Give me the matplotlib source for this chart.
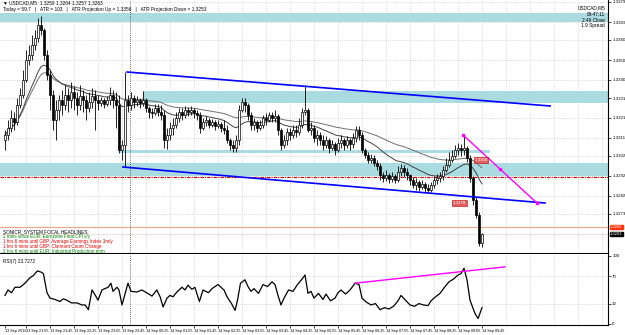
import numpy as np
import pandas as pd
import matplotlib
matplotlib.use("Agg")
import matplotlib.pyplot as plt

plt.rcParams['font.family'] = ['Liberation Sans', 'DejaVu Sans']

# USDCAD M5, 13 Sep 20:30 -> 14 Sep 09:45
first_open = 1.3310
highs = [1.3315, 1.3320, 1.3325, 1.3324, 1.3331, 1.3336, 1.3345, 1.3355, 1.33575, 1.33625,
         1.3365, 1.3371, 1.3372, 1.3366, 1.3355, 1.3345, 1.3335, 1.3330, 1.33325, 1.3335,
         1.33375, 1.3336, 1.3339, 1.3337, 1.3334, 1.33375, 1.3335, 1.33325, 1.3334, 1.3336,
         1.3335, 1.33325, 1.33315, 1.3331, 1.3332, 1.33365, 1.3335, 1.3334, 1.33325, 1.3310,
         1.3344, 1.33325, 1.3334, 1.33325, 1.3332, 1.3331, 1.33345, 1.3331, 1.3327, 1.3326,
         1.3328, 1.3328, 1.33275, 1.3325, 1.3316, 1.3319, 1.3321, 1.3324, 1.3326, 1.3326,
         1.3327, 1.33265, 1.3327, 1.3326, 1.3325, 1.3324, 1.3321, 1.3322, 1.3321, 1.33205,
         1.3320, 1.3320, 1.3319, 1.3320, 1.33175, 1.3311, 1.3310, 1.33125, 1.33275, 1.3331,
         1.3331, 1.33285, 1.3324, 1.3321, 1.3320, 1.3320, 1.33225, 1.33235, 1.3324, 1.3324,
         1.3325, 1.3323, 1.3316, 1.33125, 1.3316, 1.3316, 1.33175, 1.33175, 1.3321, 1.3326,
         1.33375, 1.3326, 1.3319, 1.33175, 1.3315, 1.3314, 1.33125, 1.3312, 1.3311, 1.3310,
         1.3309, 1.3311, 1.33125, 1.3311, 1.3312, 1.3311, 1.33135, 1.3317, 1.3317, 1.3314,
         1.3306, 1.3304, 1.3303, 1.33025, 1.3300, 1.32985, 1.3294, 1.3295, 1.32935, 1.3294,
         1.3293, 1.3297, 1.3298, 1.32975, 1.3296, 1.3293, 1.32915, 1.3291, 1.3290, 1.3290,
         1.3289, 1.3288, 1.3289, 1.3292, 1.3293, 1.3294, 1.3297, 1.3301, 1.3304, 1.3305,
         1.33075, 1.33085, 1.3308, 1.33125, 1.3307, 1.33025, 1.3292, 1.3282, 1.3274, 1.32635]
lows = [1.3305, 1.3310, 1.3314, 1.3315, 1.33175, 1.3326, 1.3331, 1.3339, 1.33475, 1.3350,
        1.3355, 1.3359, 1.33625, 1.3350, 1.3340, 1.3325, 1.3315, 1.3310, 1.3320, 1.33225,
        1.3325, 1.3324, 1.3326, 1.3325, 1.33225, 1.3325, 1.3324, 1.3320, 1.3324, 1.3326,
        1.3315, 1.3325, 1.3327, 1.3326, 1.3327, 1.33275, 1.3326, 1.3316, 1.33035, 1.3300,
        1.32965, 1.3324, 1.3325, 1.3326, 1.3327, 1.3326, 1.3327, 1.3324, 1.3321, 1.3321,
        1.33225, 1.3322, 1.3320, 1.3306, 1.33055, 1.3310, 1.33125, 1.3316, 1.3319, 1.3320,
        1.3321, 1.3322, 1.33225, 1.3321, 1.3320, 1.33135, 1.3315, 1.3317, 1.3316, 1.33165,
        1.3315, 1.3316, 1.3314, 1.3313, 1.33085, 1.3305, 1.3304, 1.3304, 1.33075, 1.3324,
        1.3324, 1.3320, 1.3315, 1.3315, 1.3314, 1.3315, 1.3316, 1.33175, 1.3319, 1.3319,
        1.3319, 1.33125, 1.3305, 1.3306, 1.33075, 1.3310, 1.3311, 1.33115, 1.33125, 1.3316,
        1.33225, 1.3314, 1.33125, 1.3309, 1.33075, 1.33075, 1.3305, 1.3306, 1.33035, 1.3305,
        1.33025, 1.3304, 1.3306, 1.3305, 1.3306, 1.3305, 1.3306, 1.3309, 1.3310, 1.33035,
        1.3301, 1.32985, 1.32985, 1.3297, 1.3295, 1.3290, 1.3289, 1.32895, 1.32885, 1.3289,
        1.32885, 1.3289, 1.3292, 1.32915, 1.3290, 1.32875, 1.3286, 1.3285, 1.32845, 1.32855,
        1.3284, 1.32835, 1.3284, 1.3286, 1.3288, 1.3289, 1.3290, 1.3294, 1.32965, 1.3299,
        1.3301, 1.33025, 1.3302, 1.33025, 1.3299, 1.3289, 1.32775, 1.3271, 1.3257, 1.32565]
closes = [1.33125, 1.3316, 1.3321, 1.3319, 1.33275, 1.33325, 1.3340, 1.3350, 1.33525, 1.33575,
          1.3361, 1.33675, 1.3365, 1.33525, 1.33425, 1.33325, 1.3320, 1.3325, 1.3330, 1.33275,
          1.33325, 1.3330, 1.3334, 1.3331, 1.33275, 1.3332, 1.3330, 1.3326, 1.3329, 1.3332,
          1.3330, 1.33285, 1.3330, 1.3328, 1.3330, 1.33325, 1.3330, 1.33275, 1.3305, 1.33075,
          1.3330, 1.33275, 1.3331, 1.3329, 1.3330, 1.33285, 1.3330, 1.3326, 1.3324, 1.33235,
          1.3326, 1.3324, 1.33225, 1.3310, 1.33125, 1.3316, 1.33175, 1.3321, 1.3324, 1.33225,
          1.3325, 1.3324, 1.3325, 1.33235, 1.33225, 1.3316, 1.3319, 1.3320, 1.33175, 1.3319,
          1.3317, 1.3318, 1.3316, 1.3315, 1.3310, 1.33075, 1.3306, 1.3310, 1.3325, 1.3329,
          1.33275, 1.33225, 1.33175, 1.3319, 1.3316, 1.33175, 1.3321, 1.3320, 1.33225, 1.3321,
          1.3322, 1.3315, 1.33075, 1.3310, 1.3314, 1.33125, 1.3315, 1.3314, 1.33175, 1.3324,
          1.3325, 1.3315, 1.3316, 1.3311, 1.33125, 1.3310, 1.33075, 1.3310, 1.3306, 1.3308,
          1.3305, 1.33085, 1.3310, 1.33075, 1.3310, 1.3308, 1.3311, 1.3315, 1.33125, 1.3305,
          1.33025, 1.3300, 1.3301, 1.32985, 1.3297, 1.32925, 1.3291, 1.32925, 1.32905, 1.3292,
          1.3290, 1.3294, 1.3296, 1.3294, 1.32925, 1.3290, 1.32875, 1.3289, 1.32865, 1.3288,
          1.3286, 1.3285, 1.32875, 1.3290, 1.3291, 1.3292, 1.3295, 1.32975, 1.3300, 1.3302,
          1.3305, 1.3306, 1.3305, 1.3306, 1.3301, 1.3291, 1.3280, 1.32725, 1.32585, 1.3263]

# RSI(7) (bar position, value)
rsi_pos = [0, 1, 2.2, 3.3, 5, 6.7, 8.3, 9.4, 10.8, 12.2, 12.8, 14, 15, 16.7, 18.3, 19.4, 20.6, 22.2,
           24, 25.6, 26.7, 27.8, 29, 30, 31, 32.3, 33.3, 34.4, 35.3, 36, 37.3, 38, 39, 40, 41, 42,
           44, 45.6, 47.2, 49, 50.6, 51.7, 52.7, 54, 55, 56, 57.3, 59, 60, 61, 62.3, 63.3, 64.8, 66,
           67.8, 69, 71, 73, 74, 75.5, 76.7, 77.5, 78.5, 80, 81, 82, 83, 84.5, 86, 87.5, 89, 90, 91,
           92, 93, 94.5, 96, 97.5, 99, 100, 101, 102, 103, 104.5, 106, 107, 108.5, 110, 111, 112,
           113.5, 115, 116.7, 118, 119, 120.5, 122, 123.5, 125, 126.5, 128, 129.5, 131, 132, 133.5,
           135, 136.5, 138, 139.5, 141, 142, 143.5, 145, 146.5, 148, 149.5, 151, 152, 153, 154, 155,
           156.7, 157.7, 159]
rsi_vals = [42, 50, 46, 54, 54, 60, 68, 71, 78, 76, 74, 46, 38, 36, 33, 37, 35, 31,
            31, 28, 28, 21, 50, 43, 35, 50, 52, 54, 60, 48, 54, 50, 28, 44, 60, 48,
            47, 50, 46, 41, 50, 40, 25, 38, 42, 40, 47, 54, 50, 57, 51, 54, 33, 50,
            46, 52, 58, 50, 40, 30, 20, 35, 60, 65, 55, 48, 52, 45, 58, 55, 62, 58, 42,
            28, 38, 50, 48, 58, 66, 72, 45, 48, 38, 45, 36, 44, 34, 38, 46, 50,
            44, 50, 60, 58, 38, 32, 28, 30, 21, 24, 22, 26, 34, 42, 35,
            28, 26, 30, 28, 27, 34, 40, 45, 54, 62, 66, 72, 74, 82, 65, 35,
            15, 8, 24]

time_pos = [0] + [7 + 8 * k for k in range(20)]
time_labels = ["13 Sep 2016", "13 Sep 21:05", "13 Sep 21:45", "13 Sep 22:25", "13 Sep 23:05",
               "13 Sep 23:45", "14 Sep 00:25", "14 Sep 01:05", "14 Sep 01:45", "14 Sep 02:25",
               "14 Sep 03:05", "14 Sep 03:45", "14 Sep 04:25", "14 Sep 05:05", "14 Sep 05:45",
               "14 Sep 06:25", "14 Sep 07:05", "14 Sep 07:45", "14 Sep 08:25", "14 Sep 09:05",
               "14 Sep 09:45"]
price_ticks = [1.3379, 1.3369, 1.3360, 1.3350, 1.3340, 1.3331, 1.3321, 1.3311, 1.3302,
               1.3292, 1.3282, 1.3273]

# support / resistance zones (low, high, start bar) and drawn lines
zones = [(1.3369, 1.33735, -2), (1.33285, 1.33345, 46), (1.33035, 1.3305, 38), (1.3292, 1.32985, -2)]
zone_end = [210, 210, 161.7, 210]
chan_top = ([40.7, 181.7], [1.3344, 1.3327])
chan_bot = ([39.3, 180.0], [1.32965, 1.32785])
proj_line = ([152.7, 165.0, 177.3], [1.33125, 1.32955, 1.32785])
rsi_line = ([116.7, 166.7], [60, 84])
alert_level = 1.32915
bid_level = 1.32665
last_price = 1.3263

W, H = 625, 335
fig = plt.figure(figsize=(W / 100, H / 100), dpi=100)
fig.patch.set_facecolor("white")
ax = fig.add_axes([0, 1 - 254 / H, 608 / W, 254 / H])
rx = fig.add_axes([0, 1 - 325 / H, 608 / W, 71 / H], sharex=ax)

closes = np.array(closes)
opens = np.r_[first_open, closes[:-1]]
highs = np.array(highs)
lows = np.array(lows)
idx = np.arange(len(closes))

grid_kw = dict(color="#b8b8b8", lw=0.5, ls=(0, (1, 2)), zorder=0)
grid_x = np.arange(7, 202, 8)
for g in grid_x:
    ax.axvline(g, **grid_kw)
    rx.axvline(g, **grid_kw)
for p in price_ticks:
    ax.axhline(p, **grid_kw)

zone_col = "#a9dbe0"
for (lo, hi, x0), x1 in zip(zones, zone_end):
    ax.fill_between([x0, x1], lo, hi, color=zone_col, lw=0, zorder=1)

ax.axhline(alert_level, color="#c00000", lw=0.8, ls=(0, (3, 1, 1, 1)), zorder=2)
ax.axhline(bid_level, color="#f4a582", lw=0.8, zorder=2)
ax.axhline(last_price, color="#f2dada", lw=0.6, zorder=2)

# moving averages
ema_fast = pd.Series(closes).ewm(span=21).mean()
ema_slow = pd.Series(closes).ewm(span=55).mean()
ax.plot(idx, ema_slow, color="#707070", lw=0.7, zorder=3)
ax.plot(idx, ema_fast, color="#404040", lw=0.7, zorder=3)

# candles
up = closes >= opens
ax.vlines(idx, lows, highs, color="black", lw=0.6, zorder=4)
ax.bar(idx[up], (closes - opens)[up], bottom=opens[up], width=0.65, color="white",
       edgecolor="black", lw=0.5, zorder=5)
ax.bar(idx[~up], (closes - opens)[~up], bottom=opens[~up], width=0.65, color="black",
       edgecolor="black", lw=0.5, zorder=5)

ax.plot(*chan_top, color="#0000ff", lw=1.2, zorder=6)
ax.plot(*chan_bot, color="#0000ff", lw=1.2, zorder=6)
ax.plot(*proj_line, color="#ff00ff", lw=1.0, marker="s", ms=1.5, zorder=6)

for xp, yp, txt in [(156.5, 1.3300, "1.3300"), (149.3, 1.32785, "1.3278")]:
    ax.text(xp, yp, txt, fontsize=3.2, color="white", ha="left", va="center", zorder=7,
            bbox=dict(boxstyle="square,pad=0.15", fc="#e06060", ec="#c00000", lw=0.4))

ax.axvline(41.67, color="#404040", lw=0.6, ls=(0, (1, 1.5)), zorder=3)
rx.axvline(41.67, color="#404040", lw=0.6, ls=(0, (1, 1.5)), zorder=3)

ax.set_xlim(-5 / 3, 201)
ax.set_ylim(1.3253, 1.3380)
ax.yaxis.tick_right()
ax.set_yticks(price_ticks)
ax.set_yticklabels([f"{p:.4f}" for p in price_ticks])
ax.tick_params(axis="y", length=2, width=0.5, labelsize=3.2, pad=1)
ax.tick_params(axis="x", bottom=False, labelbottom=False)
for s in ["left", "top"]:
    ax.spines[s].set_visible(False)
ax.spines["right"].set_linewidth(0.8)
ax.spines["bottom"].set_linewidth(1.5)

for yp, txt, fc in [(bid_level, "1.3266", "#ff3000"), (last_price, "1.3263", "black")]:
    ax.annotate(txt, xy=(1.0, yp), xycoords=("axes fraction", "data"), xytext=(1.5, 0),
                textcoords="offset points", fontsize=3.0, color="white", va="center",
                annotation_clip=False,
                bbox=dict(boxstyle="square,pad=0.1", fc=fc, ec=fc))

# RSI panel
rx.plot(rsi_pos, rsi_vals, color="black", lw=0.9, zorder=4)
rx.plot(*rsi_line, color="#ff00ff", lw=1.0, zorder=5)
for lv in [70, 30]:
    rx.axhline(lv, **grid_kw)
rx.set_ylim(-1.5, 102.9)
rx.yaxis.tick_right()
rx.set_yticks([0, 30, 70, 100])
rx.set_yticklabels(["0", "30", "70", "100"])
rx.tick_params(axis="y", length=2, width=0.5, labelsize=3.2, pad=1)
rx.set_xticks(time_pos)
rx.set_xticklabels(time_labels)
rx.tick_params(axis="x", length=2, width=0.5, labelsize=2.7, pad=1)
for lab in rx.get_xticklabels():
    lab.set_ha("left")
for s in ["left", "top"]:
    rx.spines[s].set_visible(False)
rx.spines["right"].set_linewidth(0.8)
rx.spines["bottom"].set_linewidth(0.8)
rx.text(0.005, 0.93, "RSI(7) 23.7272", transform=rx.transAxes, fontsize=3.4, va="top")


def px(x, y):
    return x / W, 1 - y / H


fig.text(*px(3, 3), "\u25bc USDCAD,M5  1.3259 1.3264 1.3257 1.3263", fontsize=3.4, va="center")
fig.text(*px(3, 9.5), "Today = 59.7   |   ATR = 103   |   ATR Projection Up = 1.3356   |   "
         "ATR Projection Down = 1.3253", fontsize=3.4, va="center")
for yy, txt in [(8, "USDCAD,M5"), (14.5, "09:47:11"), (20, "2:49 Close"), (25.5, "1.9 Spread")]:
    fig.text(*px(605, yy), txt, fontsize=3.4, ha="right", va="center")

news = [("SONICR_SYSTEM FOCAL HEADLINES:", "black"),
        ("2 mins since EUR: Eurozone Final CPI y/y", "#008000"),
        ("1 hrs 6 mins until GBP: Average Earnings Index 3m/y", "#e00000"),
        ("1 hrs 6 mins until GBP: Claimant Count Change", "#e00000"),
        ("2 hrs 6 mins until EUR: Industrial Production m/m", "#008000")]
for k, (txt, col) in enumerate(news):
    fig.text(*px(3, 232 + 4.8 * k), txt, fontsize=3.3, color=col, va="center")

fig.savefig("out.png", dpi=100, facecolor="white")
